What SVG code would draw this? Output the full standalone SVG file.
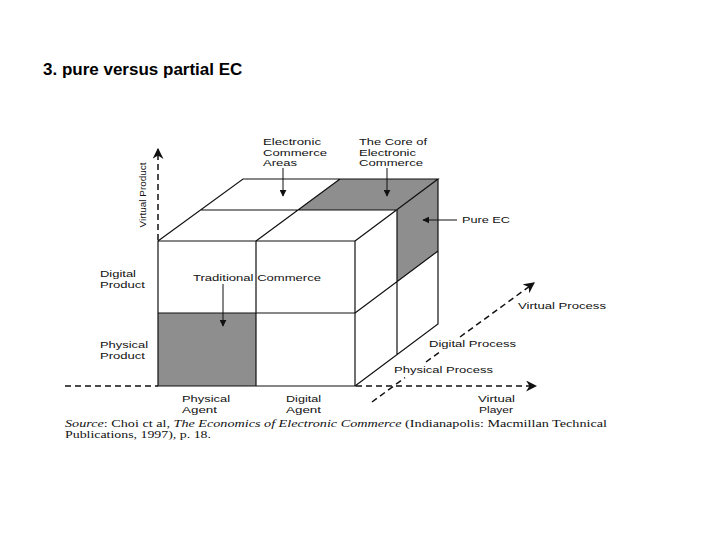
<svg xmlns="http://www.w3.org/2000/svg" width="720" height="540" viewBox="0 0 720 540">
<style>
.t{font-family:"Liberation Sans",Arial,sans-serif;font-size:9.5px;fill:#111}
.e{fill:none;stroke:#111;stroke-width:1.2}
.g{fill:#8e8e8e;stroke:none}
.d{fill:none;stroke:#111;stroke-width:1.5;stroke-dasharray:6,4}
.a{fill:none;stroke:#111;stroke-width:1}
.s{font-family:"Liberation Serif","Times New Roman",serif;font-size:9.5px;fill:#111}
</style>
<defs>
<marker id="ah" viewBox="0 0 10 10" refX="9" refY="5" markerWidth="7" markerHeight="7" orient="auto" markerUnits="userSpaceOnUse">
<path d="M0,0 L10,5 L0,10 z" fill="#111"/>
</marker>
<marker id="ab" viewBox="0 0 10 10" refX="9" refY="5" markerWidth="11" markerHeight="11" orient="auto" markerUnits="userSpaceOnUse">
<path d="M0,0 L10,5 L0,10 L3,5 z" fill="#111"/>
</marker>
</defs>
<rect width="720" height="540" fill="#fff"/>
<text x="43" y="75" style="font-family:'Liberation Sans',Arial,sans-serif;font-size:17px;font-weight:bold;fill:#000">3. pure versus partial EC</text>

<g id="cube">
<polygon class="g" points="158,313 256,313 256,386 158,386"/>
<polygon class="g" points="340,179 438,179 397,210 298,210"/>
<polygon class="g" points="397,210 438,179 438,251 397,282"/>
<path class="e" d="M158,241 H355 V386 H158 Z M256,241 V386 M158,313 H355"/>
<path class="e" d="M158,241 L243,179 H438 L355,241 M256,241 L340,179 M200,210 H397"/>
<path class="e" d="M438,179 V324 L355,386 M397,210 V355 M355,313 L438,251"/>
</g>

<g id="connectors">
<line class="d" x1="158" y1="240" x2="158" y2="149" marker-end="url(#ab)"/>
<line class="d" x1="65" y1="386" x2="158" y2="386"/>
<line class="d" x1="356" y1="386" x2="536" y2="386" marker-end="url(#ab)"/>
<line class="d" x1="372" y1="402" x2="405" y2="377.6"/>
<line class="d" x1="426" y1="362" x2="441" y2="351"/>
<line class="d" x1="460" y1="337" x2="534" y2="283" marker-end="url(#ab)"/>
<line class="a" x1="283" y1="168" x2="283" y2="196" marker-end="url(#ah)"/>
<line class="a" x1="387" y1="168" x2="387" y2="196" marker-end="url(#ah)"/>
<line class="a" x1="457" y1="220" x2="423" y2="220" marker-end="url(#ah)"/>
<line class="a" x1="223" y1="284" x2="223" y2="326" marker-end="url(#ah)"/>
</g>

<g id="labels">
<text class="t" transform="translate(146,195) rotate(-90)" text-anchor="middle" textLength="65" lengthAdjust="spacingAndGlyphs">Virtual Product</text>
<text class="t" x="263" y="145" textLength="58" lengthAdjust="spacingAndGlyphs">Electronic</text>
<text class="t" x="263" y="156" textLength="64" lengthAdjust="spacingAndGlyphs">Commerce</text>
<text class="t" x="263" y="166" textLength="34" lengthAdjust="spacingAndGlyphs">Areas</text>
<text class="t" x="359" y="145" textLength="68" lengthAdjust="spacingAndGlyphs">The Core of</text>
<text class="t" x="359" y="156" textLength="57" lengthAdjust="spacingAndGlyphs">Electronic</text>
<text class="t" x="359" y="166" textLength="64" lengthAdjust="spacingAndGlyphs">Commerce</text>
<text class="t" x="462" y="223" textLength="48" lengthAdjust="spacingAndGlyphs">Pure EC</text>
<text class="t" x="100" y="277" textLength="36" lengthAdjust="spacingAndGlyphs">Digital</text>
<text class="t" x="100" y="288" textLength="45" lengthAdjust="spacingAndGlyphs">Product</text>
<text class="t" x="193" y="281" textLength="128" lengthAdjust="spacingAndGlyphs">Traditional Commerce</text>
<text class="t" x="100" y="348" textLength="48" lengthAdjust="spacingAndGlyphs">Physical</text>
<text class="t" x="100" y="359" textLength="45" lengthAdjust="spacingAndGlyphs">Product</text>
<text class="t" x="182" y="402" textLength="48" lengthAdjust="spacingAndGlyphs">Physical</text>
<text class="t" x="182" y="413" textLength="35" lengthAdjust="spacingAndGlyphs">Agent</text>
<text class="t" x="286" y="402" textLength="35" lengthAdjust="spacingAndGlyphs">Digital</text>
<text class="t" x="286" y="413" textLength="35" lengthAdjust="spacingAndGlyphs">Agent</text>
<text class="t" x="478" y="402" textLength="37" lengthAdjust="spacingAndGlyphs">Virtual</text>
<text class="t" x="479" y="413" textLength="34" lengthAdjust="spacingAndGlyphs">Player</text>
<text class="t" x="518" y="309" textLength="88" lengthAdjust="spacingAndGlyphs">Virtual Process</text>
<text class="t" x="429" y="347" textLength="87" lengthAdjust="spacingAndGlyphs">Digital Process</text>
<text class="t" x="394" y="373" textLength="99" lengthAdjust="spacingAndGlyphs">Physical Process</text>
<text class="s" x="65" y="427" textLength="542" lengthAdjust="spacingAndGlyphs"><tspan font-style="italic">Source</tspan>: Choi ct al, <tspan font-style="italic">The Economics of Electronic Commerce</tspan> (Indianapolis: Macmillan Technical</text>
<text class="s" x="65" y="438" textLength="146" lengthAdjust="spacingAndGlyphs">Publications, 1997), p. 18.</text>
</g>
</svg>
